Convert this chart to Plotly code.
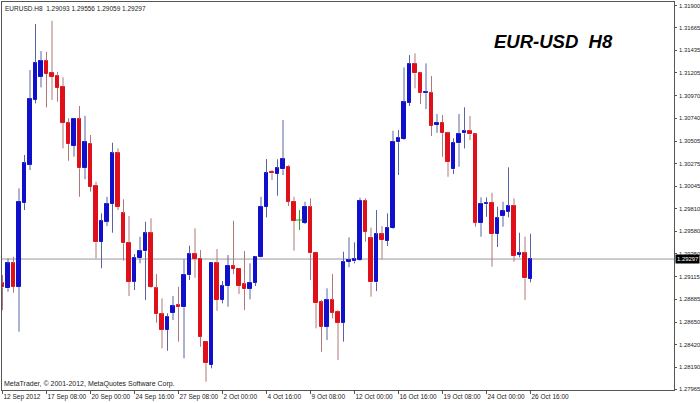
import plotly.graph_objects as go

# ---- data (EURUSD, H8) ----
BAR_OPEN = [1.29048, 1.28997, 1.29253, 1.29013, 1.29870, 1.30265, 1.30930, 1.31165, 1.31326, 1.31206,
            1.31172, 1.31063, 1.30694, 1.30458, 1.30729, 1.30233, 1.30480, 1.30045, 1.29474, 1.29680,
            1.29860, 1.30380, 1.29765, 1.29464, 1.29064, 1.29304, 1.29375, 1.29560, 1.28997, 1.28730,
            1.28569, 1.28747, 1.28826, 1.28802, 1.29130, 1.29345, 1.29300, 1.28450, 1.28211, 1.29253,
            1.28877, 1.29020, 1.29228, 1.29200, 1.29038, 1.28993, 1.29054, 1.29321, 1.29830, 1.30192,
            1.30168, 1.30216, 1.30243, 1.29884, 1.29697, 1.29669, 1.29833, 1.29362, 1.28853, 1.28603,
            1.28877, 1.28757, 1.28644, 1.29269, 1.29272, 1.29287, 1.29894, 1.29509, 1.29058, 1.29550,
            1.29485, 1.29612, 1.30493, 1.30527, 1.30899, 1.31295, 1.31200, 1.30998, 1.31001, 1.30670,
            1.30694, 1.30585, 1.30216, 1.30483, 1.30585, 1.30609, 1.30575, 1.29669, 1.29858, 1.29874,
            1.29553, 1.29741, 1.29782, 1.29840, 1.29338, 1.29355, 1.29093]
BAR_HIGH = [1.29133, 1.29304, 1.29321, 1.30021, 1.30363, 1.31234, 1.31705, 1.31428, 1.31421, 1.31739,
            1.31216, 1.31159, 1.30739, 1.30740, 1.30865, 1.30765, 1.30568, 1.30089, 1.29765, 1.29935,
            1.30489, 1.30431, 1.29909, 1.29738, 1.29348, 1.29526, 1.29679, 1.29714, 1.29143, 1.28894,
            1.28741, 1.28918, 1.29013, 1.29294, 1.29433, 1.29612, 1.29389, 1.28455, 1.29260, 1.29399,
            1.29072, 1.29338, 1.29689, 1.29205, 1.29379, 1.29253, 1.29328, 1.29935, 1.30322, 1.30209,
            1.30319, 1.30721, 1.30260, 1.29935, 1.29799, 1.29884, 1.29919, 1.29372, 1.28877, 1.28997,
            1.29143, 1.28774, 1.29372, 1.29519, 1.29468, 1.29925, 1.29919, 1.29618, 1.29799, 1.29635,
            1.29765, 1.30612, 1.30619, 1.31261, 1.31387, 1.31405, 1.31210, 1.31302, 1.31172, 1.30783,
            1.30773, 1.30601, 1.30534, 1.30783, 1.30852, 1.30762, 1.30585, 1.29929, 1.29929, 1.29976,
            1.29833, 1.29884, 1.30237, 1.29919, 1.29567, 1.29526, 1.29556]
BAR_LOW = [1.28774, 1.28962, 1.28952, 1.28552, 1.29799, 1.30209, 1.30892, 1.31056, 1.30851, 1.30926,
           1.30909, 1.30431, 1.30304, 1.30345, 1.29935, 1.30114, 1.29987, 1.29304, 1.29202, 1.29635,
           1.29567, 1.29799, 1.29280, 1.28918, 1.28979, 1.29253, 1.28877, 1.29000, 1.28644, 1.28382,
           1.28357, 1.28672, 1.28450, 1.28279, 1.29082, 1.29105, 1.28398, 1.28040, 1.28177, 1.28767,
           1.28843, 1.28808, 1.29143, 1.28938, 1.28774, 1.28884, 1.29020, 1.29314, 1.29724, 1.30107,
           1.29946, 1.30158, 1.29840, 1.29382, 1.29594, 1.29656, 1.29082, 1.28587, 1.28347, 1.28467,
           1.28690, 1.28262, 1.28450, 1.29212, 1.29253, 1.29280, 1.29474, 1.28911, 1.28969, 1.29294,
           1.29430, 1.29604, 1.30158, 1.30519, 1.30865, 1.31046, 1.30885, 1.30834, 1.30557, 1.30591,
           1.30345, 1.30140, 1.30168, 1.30243, 1.30431, 1.30516, 1.29628, 1.29526, 1.29730, 1.29218,
           1.29420, 1.29628, 1.29724, 1.29269, 1.29314, 1.28877, 1.29059]
BAR_CLOSE = [1.29007, 1.29253, 1.29013, 1.29884, 1.30278, 1.30937, 1.31309, 1.31326, 1.31193, 1.31165,
             1.31052, 1.30694, 1.30475, 1.30732, 1.30226, 1.30493, 1.30038, 1.29468, 1.29689, 1.29861,
             1.30380, 1.29833, 1.29458, 1.29064, 1.29310, 1.29379, 1.29560, 1.29007, 1.28730, 1.28569,
             1.28706, 1.28812, 1.28802, 1.29133, 1.29345, 1.29297, 1.28501, 1.28228, 1.29253, 1.28877,
             1.29020, 1.29228, 1.29195, 1.29023, 1.28987, 1.29054, 1.29321, 1.29833, 1.30181, 1.30175,
             1.30226, 1.30319, 1.29884, 1.29689, 1.29697, 1.29833, 1.29355, 1.28843, 1.28603, 1.28877,
             1.28747, 1.28644, 1.29269, 1.29287, 1.29294, 1.29894, 1.29577, 1.29058, 1.29550, 1.29492,
             1.29618, 1.30499, 1.30540, 1.30903, 1.31295, 1.31200, 1.30995, 1.31004, 1.30660, 1.30694,
             1.30585, 1.30294, 1.30489, 1.30578, 1.30609, 1.30575, 1.29669, 1.29861, 1.29874, 1.29553,
             1.29717, 1.29792, 1.29840, 1.29331, 1.29355, 1.29099, 1.29297]

TIME_LABELS = ["12 Sep 2012", "17 Sep 08:00", "20 Sep 00:00", "24 Sep 16:00", "27 Sep 08:00",
               "2 Oct 00:00", "4 Oct 16:00", "9 Oct 08:00", "12 Oct 00:00", "16 Oct 16:00",
               "19 Oct 08:00", "24 Oct 00:00", "26 Oct 16:00"]
BARS_PER_LABEL = 8

PRICE_TICKS = [1.31900, 1.31665, 1.31435, 1.31205, 1.30970, 1.30740, 1.30505, 1.30275, 1.30045,
               1.29810, 1.29580, 1.29350, 1.29115, 1.28885, 1.28650, 1.28420, 1.28190, 1.27965]

SYMBOL = "EURUSD.H8"
TITLE = "EUR-USD  H8"
COPYRIGHT = "MetaTrader, © 2001-2012, MetaQuotes Software Corp."

# ---- styling ----
BULL = "#1010cc"
BEAR = "#e0101a"
BULL_WICK = "#5a64a4"
BEAR_WICK = "#b07878"
DOJI = "#22aa22"
FONT = "Liberation Sans"
TXT = "#222222"

n = len(BAR_OPEN)
idx = list(range(n))

fig = go.Figure()

# wicks (upper and lower segments so they do not cross the body)
groups = {"bull": ([], []), "bear": ([], []), "doji": ([], [])}
for i, o, h, l, c in zip(idx, BAR_OPEN, BAR_HIGH, BAR_LOW, BAR_CLOSE):
    key = "bull" if c > o else ("bear" if c < o else "doji")
    gx, gy = groups[key]
    top, bot = max(o, c), min(o, c)
    gx += [i, i, None, i, i, None]
    gy += [h, top, None, bot, l, None]
for key, col in (("bull", BULL_WICK), ("bear", BEAR_WICK), ("doji", DOJI)):
    gx, gy = groups[key]
    fig.add_trace(go.Scatter(x=gx, y=gy, mode="lines", line=dict(color=col, width=1),
                             hoverinfo="skip", showlegend=False))

# bodies
body_x, body_base, body_h, body_col = [], [], [], []
doji_x, doji_y = [], []
for i, o, c in zip(idx, BAR_OPEN, BAR_CLOSE):
    if c == o:
        doji_x.append(i)
        doji_y.append(o)
        continue
    body_x.append(i)
    body_base.append(min(o, c))
    body_h.append(abs(c - o))
    body_col.append(BULL if c > o else BEAR)

fig.add_trace(go.Bar(x=body_x, y=body_h, base=body_base, width=0.55,
                     marker=dict(color=body_col, line=dict(color=body_col, width=1)),
                     hoverinfo="skip", showlegend=False))
fig.add_trace(go.Scatter(x=doji_x, y=doji_y, mode="markers",
                         marker=dict(symbol="line-ew", size=5, line=dict(color=DOJI, width=1)),
                         hoverinfo="skip", showlegend=False))

current = BAR_CLOSE[-1]
fig.add_shape(type="line", xref="paper", x0=0, x1=1, yref="y", y0=current, y1=current,
              line=dict(color="#999999", width=1), layer="below")

tick_bars = [k * BARS_PER_LABEL for k in range(len(TIME_LABELS))]

# right-hand price labels as annotations; the topmost one is pinned to the frame top
price_labels = []
for k, v in enumerate(PRICE_TICKS):
    lab = dict(xref="paper", x=1, xanchor="left", xshift=3, showarrow=False,
               text=f"{v:.5f}", font=dict(family=FONT, size=5.9, color=TXT))
    if k == 0:
        lab.update(yref="paper", y=1, yanchor="top", yshift=1)
    else:
        lab.update(yref="y", y=v, yanchor="middle")
    price_labels.append(lab)

fig.update_layout(
    template="none",
    width=700, height=403,
    margin=dict(l=2, r=26, t=2, b=13, pad=0),
    paper_bgcolor="white", plot_bgcolor="white",
    showlegend=False,
    bargap=0,
    font=dict(family=FONT, size=7, color=TXT),
    xaxis=dict(range=[-0.09, 122.09], showgrid=False, zeroline=False, automargin=False,
               showline=True, linecolor="#555555", linewidth=1, mirror=True,
               tickmode="array", tickvals=tick_bars, ticktext=TIME_LABELS,
               ticks="outside", ticklen=3, tickwidth=1, tickcolor="#555555",
               ticklabelposition="outside right", tickangle=0,
               tickfont=dict(family=FONT, size=6.5, color=TXT),
               fixedrange=True),
    yaxis=dict(range=[1.27955, 1.31931], side="right", showgrid=False, zeroline=False,
               automargin=False,
               showline=True, linecolor="#555555", linewidth=1, mirror=True,
               tickmode="array", tickvals=PRICE_TICKS, showticklabels=False,
               ticks="outside", ticklen=2, tickwidth=1, tickcolor="#555555",
               fixedrange=True),
    annotations=price_labels + [
        dict(xref="paper", yref="paper", x=0, y=1, xanchor="left", yanchor="top",
             xshift=1, yshift=-1, showarrow=False,
             text=SYMBOL + "\u00a0\u00a0" + "\u00a0".join(f"{v:.5f}" for v in
                  (BAR_OPEN[-1], BAR_HIGH[-1], BAR_LOW[-1], BAR_CLOSE[-1])),
             font=dict(family=FONT, size=6.5, color=TXT)),
        dict(xref="paper", yref="paper", x=0, y=0, xanchor="left", yanchor="bottom",
             xshift=0, yshift=0, showarrow=False, text=COPYRIGHT,
             font=dict(family=FONT, size=7, color=TXT)),
        dict(xref="paper", yref="paper", x=0.729, y=0.897, xanchor="left", yanchor="middle",
             showarrow=False, text="<b><i>" + TITLE.replace(" ", "\u00a0") + "</i></b>",
             font=dict(family=FONT, size=18.5, color="#000000")),
        dict(xref="paper", yref="y", x=1, y=current, xanchor="left", yanchor="middle",
             xshift=1, showarrow=False, text=f"{current:.5f}", bgcolor="#000000",
             borderpad=1, font=dict(family=FONT, size=5.9, color="#ffffff")),
    ],
)

fig.write_html("out.html",
               config={"displayModeBar": False},
               post_script="document.body.style.margin='0px';document.body.style.padding='0px';"
                           "document.body.style.overflow='hidden';")
